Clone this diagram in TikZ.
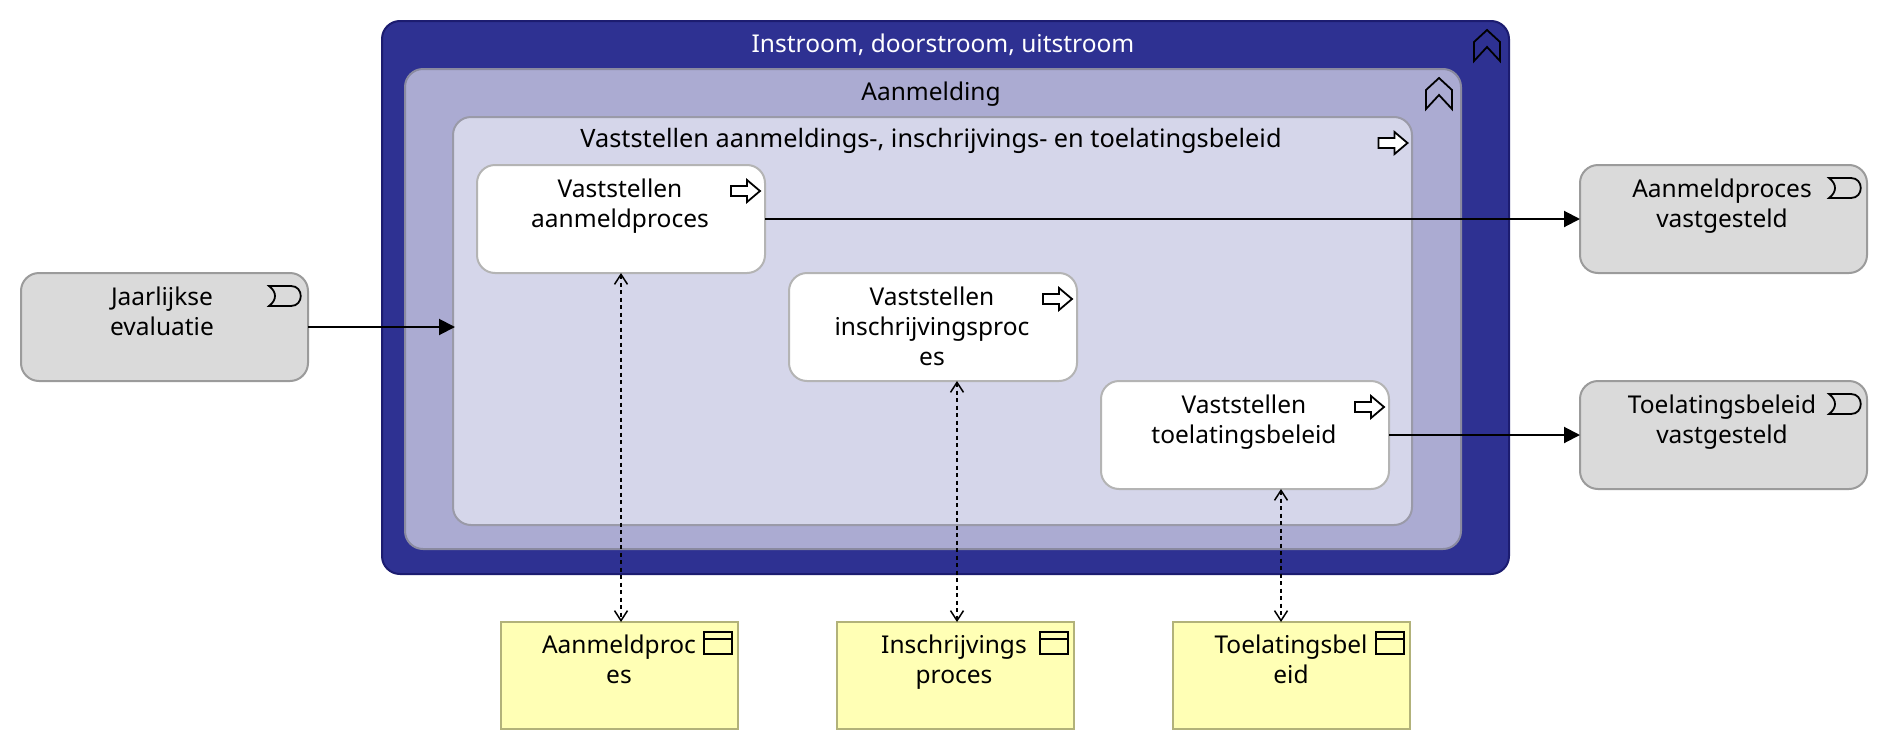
\documentclass[tikz,border=0pt]{standalone}
\usepackage{fontspec}
\setmainfont{Noto Sans}
\usetikzlibrary{arrows.meta}
\definecolor{navyfill}{HTML}{2E3192}
\definecolor{navyline}{HTML}{1C1C70}
\definecolor{midfill}{HTML}{ABABD2}
\definecolor{midline}{HTML}{8A8AA0}
\definecolor{innerfill}{HTML}{D5D6EA}
\definecolor{innerline}{HTML}{9A9AA8}
\definecolor{whiteline}{HTML}{B4B4B4}
\definecolor{greyfill}{HTML}{DADADA}
\definecolor{greyline}{HTML}{9B9B9B}
\definecolor{yelfill}{HTML}{FFFFB5}
\definecolor{yelline}{HTML}{B2B27A}
\tikzset{
  x=1pt,y=-1pt,
  elem/.style={draw,line width=2pt,inner sep=0pt,outer sep=0pt,anchor=north west,rounded corners=18pt},
  outerbox/.style={elem,fill=navyfill,draw=navyline,minimum width=1127pt,minimum height=553pt},
  midbox/.style={elem,fill=midfill,draw=midline,minimum width=1056pt,minimum height=480pt},
  innerbox/.style={elem,fill=innerfill,draw=innerline,minimum width=959pt,minimum height=408pt},
  procbox/.style={elem,fill=white,draw=whiteline,minimum width=288pt,minimum height=108pt},
  eventbox/.style={elem,fill=greyfill,draw=greyline,minimum width=287pt,minimum height=108pt},
  objbox/.style={elem,rounded corners=0pt,fill=yelfill,draw=yelline,minimum width=237pt,minimum height=107pt},
  lbl/.style={font=\fontsize{24.5}{30}\selectfont,align=center,anchor=center,inner sep=0pt,text=black,
    execute at begin node=\vphantom{Ag},execute at end node=\vphantom{Ag}},
  flowline/.style={draw=black,line width=2pt,-{Triangle[length=16pt,width=16pt]}},
  accessline/.style={draw=black,line width=1.8pt,dash pattern=on 4pt off 3.5pt,{Straight Barb[length=10pt,width=13pt,line width=1.5pt]}-{Straight Barb[length=10pt,width=13pt,line width=1.5pt]}},
  iconline/.style={draw=black,line width=1.8pt,line join=miter},
  pics/chevrons/.style={code={
    \draw[iconline] (-13,-3) -- (0,-15) -- (13,-3) -- (13,16) -- (0,2) -- (-13,16) -- cycle;
  }},
  pics/procarrow/.style={code={
    \draw[iconline,fill=white] (-14.5,-5) -- (1.5,-5) -- (1.5,-11) -- (14.5,0) -- (1.5,11) -- (1.5,5) -- (-14.5,5) -- cycle;
  }},
  pics/eventicon/.style={code={
    \draw[iconline] (-16,-10) -- (6,-10) .. controls (19,-10) and (19,10) .. (6,10) -- (-16,10) .. controls (-8,4) and (-8,-4) .. (-16,-10) -- cycle;
  }},
  pics/objicon/.style={code={
    \draw[iconline] (-14,-11) rectangle (14,11);
    \draw[iconline] (-14,-4) -- (14,-4);
  }},
}
\begin{document}
\begin{tikzpicture}
\useasboundingbox (0,0) rectangle (1888,750);
\fill[white] (0,0) rectangle (1888,750);
% containers
\node[outerbox] (outer) at (382,21) {};
\node[midbox] (mid) at (405,69) {};
\node[innerbox] (inner) at (453,117) {};
% processes
\node[procbox] (pa) at (477,165) {};
\node[procbox] (pi) at (789,273) {};
\node[procbox] (pt) at (1101,381) {};
% events
\node[eventbox] (ej) at (21,273) {};
\node[eventbox] (ea) at (1580,165) {};
\node[eventbox] (et) at (1580,381) {};
% objects
\node[objbox] (oa) at (501,622) {};
\node[objbox] (oi) at (837,622) {};
\node[objbox] (ot) at (1173,622) {};
% icons
\path (1393,143) pic {procarrow};
\path (1487,45) pic {chevrons};
\path (1439,93) pic {chevrons};
\path (745.5,191) pic {procarrow};
\path (1057.5,299) pic {procarrow};
\path (1369.5,407) pic {procarrow};
\path (285,296) pic {eventicon};
\path (1845,188) pic {eventicon};
\path (1845,404) pic {eventicon};
\path (718,643) pic {objicon};
\path (1054,643) pic {objicon};
\path (1390,643) pic {objicon};
% connector columns
\coordinate (col1) at (621,0);
\coordinate (col2) at (957,0);
\coordinate (col3) at (1281,0);
% connectors
\draw[flowline] (pa.east |- 0,219) -- (ea.west |- 0,219);
\draw[flowline] (ej.east |- 0,327) -- ([xshift=2pt]inner.west |- 0,327);
\draw[flowline] (pt.east |- 0,435) -- (et.west |- 0,435);
\draw[accessline] (col1 |- pa.south) -- (col1 |- oa.north);
\draw[accessline] (col2 |- pi.south) -- (col2 |- oi.north);
\draw[accessline] (col3 |- pt.south) -- (col3 |- ot.north);
% labels
\node[lbl,text=white] (t1) at (943,46) {Instroom, doorstroom, uitstroom};
\node[lbl] (t2) at (931,94) {Aanmelding};
\node[lbl,font=\fontsize{25.3}{30}\selectfont] (t3) at (931,141) {Vaststellen aanmeldings-, inschrijvings- en toelatingsbeleid};
\node[lbl] (t4) at (620,206) {Vaststellen\\aanmeldproces};
\node[lbl] (t5) at (932,329) {Vaststellen\\inschrijvingsproc\\es};
\node[lbl] (t6) at (1244,422) {Vaststellen\\toelatingsbeleid};
\node[lbl] (t7) at (162,314) {Jaarlijkse\\evaluatie};
\node[lbl] (t8) at (1722,206) {Aanmeldproces\\vastgesteld};
\node[lbl] (t9) at (1722,422) {Toelatingsbeleid\\vastgesteld};
\node[lbl] (t10) at (619,662) {Aanmeldproc\\es};
\node[lbl] (t11) at (954,662) {Inschrijvings\\proces};
\node[lbl] (t12) at (1291,662) {Toelatingsbel\\eid};
\end{tikzpicture}
\end{document}
